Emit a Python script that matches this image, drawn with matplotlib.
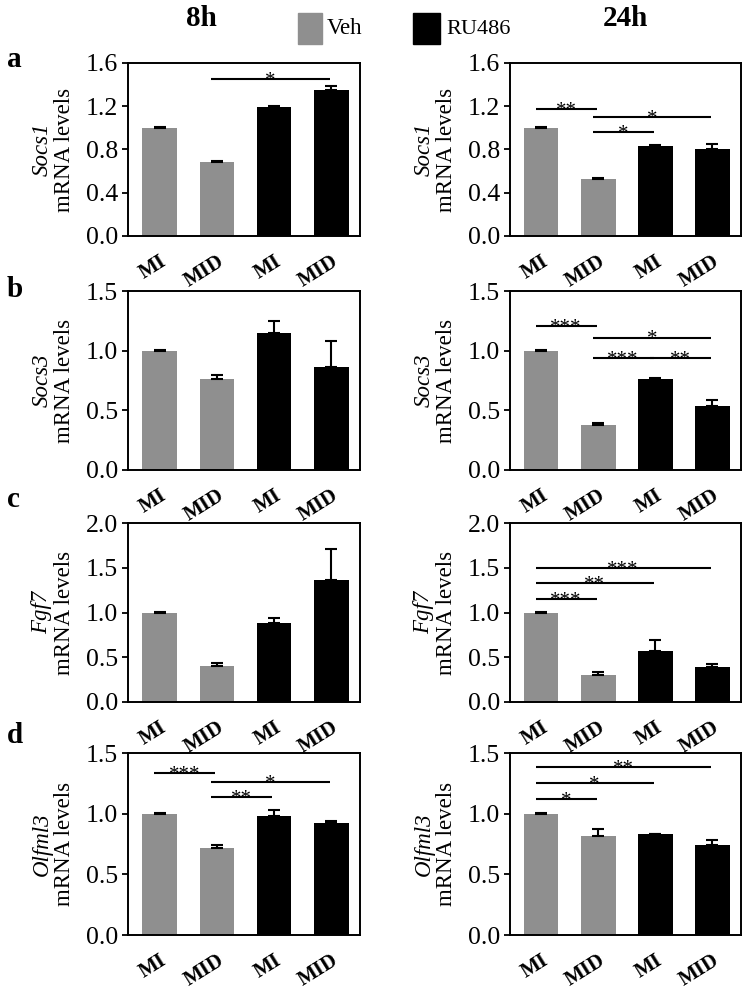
import matplotlib
matplotlib.use("Agg")
import matplotlib.pyplot as plt
from matplotlib.patches import Rectangle
import numpy as np

plt.rcParams['font.family'] = ['Liberation Serif', 'DejaVu Serif']

# ---------------- data ----------------
groups = ["MI", "MID", "MI", "MID"]
series_colors = ["#8f8f8f", "#8f8f8f", "#000000", "#000000"]
legend_labels = ["Veh", "RU486"]
time_titles = ["8h", "24h"]
panel_letters = ["a", "b", "c", "d"]
genes = ["Socs1", "Socs3", "Fgf7", "Olfml3"]
y_max = [1.6, 1.5, 2.0, 1.5]
y_step = [0.4, 0.5, 0.5, 0.5]

socs1_8h = [1.00, 0.68, 1.19, 1.35]
socs1_8h_err = [0.005, 0.01, 0.01, 0.04]
socs1_24h = [1.00, 0.53, 0.83, 0.80]
socs1_24h_err = [0.005, 0.01, 0.01, 0.05]

socs3_8h = [1.00, 0.76, 1.15, 0.86]
socs3_8h_err = [0.005, 0.04, 0.10, 0.22]
socs3_24h = [1.00, 0.38, 0.76, 0.54]
socs3_24h_err = [0.005, 0.01, 0.01, 0.05]

fgf7_8h = [1.00, 0.40, 0.88, 1.36]
fgf7_8h_err = [0.005, 0.04, 0.06, 0.35]
fgf7_24h = [1.00, 0.30, 0.57, 0.39]
fgf7_24h_err = [0.005, 0.04, 0.12, 0.04]

olfml3_8h = [1.00, 0.72, 0.98, 0.92]
olfml3_8h_err = [0.005, 0.02, 0.05, 0.02]
olfml3_24h = [1.00, 0.82, 0.83, 0.74]
olfml3_24h_err = [0.005, 0.05, 0.005, 0.04]

# significance brackets: (from group, to group, y level, label)
sig_socs1_8h = [(1, 3, 1.45, "*")]
sig_socs1_24h = [(0, 1, 1.175, "**"), (1, 3, 1.10, "*"), (1, 2, 0.965, "*")]
sig_socs3_8h = []
sig_socs3_24h = [(0, 1, 1.21, "***"), (1, 3, 1.11, "*"), (1, 2, 0.935, "***"), (2, 3, 0.935, "**")]
sig_fgf7_8h = []
sig_fgf7_24h = [(0, 1, 1.15, "***"), (0, 2, 1.33, "**"), (0, 3, 1.50, "***")]
sig_olfml3_8h = [(0, 1, 1.335, "***"), (1, 3, 1.26, "*"), (1, 2, 1.14, "**")]
sig_olfml3_24h = [(0, 3, 1.385, "**"), (0, 2, 1.25, "*"), (0, 1, 1.12, "*")]

rows = [
    (socs1_8h, socs1_8h_err, sig_socs1_8h, socs1_24h, socs1_24h_err, sig_socs1_24h),
    (socs3_8h, socs3_8h_err, sig_socs3_8h, socs3_24h, socs3_24h_err, sig_socs3_24h),
    (fgf7_8h, fgf7_8h_err, sig_fgf7_8h, fgf7_24h, fgf7_24h_err, sig_fgf7_24h),
    (olfml3_8h, olfml3_8h_err, sig_olfml3_8h, olfml3_24h, olfml3_24h_err, sig_olfml3_24h),
]

# ---------------- layout ----------------
W, H = 750, 989
fig = plt.figure(figsize=(W / 100, H / 100), dpi=100)

def fx(px):
    return px / W

def fy(py):
    return 1 - py / H

col_left = [128, 510]
col_right = [360, 741]
row_top = [63, 291, 523, 753]
row_bot = [236, 470, 702, 935]
letter_baseline = [67, 297, 507, 743]

x = np.arange(len(groups))

for r in range(4):
    for c in range(2):
        vals = rows[r][3 * c]
        errs = rows[r][3 * c + 1]
        sigs = rows[r][3 * c + 2]
        ax = fig.add_axes([fx(col_left[c]), fy(row_bot[r]),
                           fx(col_right[c] - col_left[c]),
                           (row_bot[r] - row_top[r]) / H])
        ax.bar(x, vals, width=0.6, color=series_colors, edgecolor='none', zorder=2)
        ax.errorbar(x, vals, yerr=[np.zeros(len(vals)), errs], fmt='none',
                    ecolor='black', elinewidth=1.5, capsize=4.5, capthick=1.5, zorder=3)
        ax.set_xlim(-0.55, 3.5)
        ax.set_ylim(0, y_max[r])
        ticks = np.round(np.arange(0, y_max[r] + 1e-6, y_step[r]), 2)
        ax.set_yticks(ticks)
        ax.set_yticklabels([f"{t:.1f}" for t in ticks], fontsize=18.5)
        ax.set_xticks(x)
        ax.set_xticklabels(groups, fontsize=15, fontweight='bold', rotation=32,
                           ha='right', rotation_mode='anchor')
        ax.tick_params(axis='x', length=0, pad=11)
        ax.tick_params(axis='y', length=4, width=1.3, direction='out', pad=3)
        for s in ax.spines.values():
            s.set_linewidth(1.4)
        for (i, j, yl, lab) in sigs:
            x1 = i - 0.1
            x2 = j - 0.03
            ax.plot([x1, x2], [yl, yl], color='black', lw=1.5, zorder=4,
                    solid_capstyle='butt')
            ax.annotate(lab, xy=((x1 + x2) / 2, yl), xytext=(0, -5),
                        textcoords='offset points', ha='center', va='baseline',
                        fontsize=15, zorder=5)
        # y label: italic gene name + mRNA levels
        ymid = fy((row_top[r] + row_bot[r]) / 2)
        fig.text(fx(col_left[c] - 86), ymid, genes[r], rotation=90, fontsize=16.5,
                 style='italic', ha='center', va='center')
        fig.text(fx(col_left[c] - 63), ymid, "mRNA levels", rotation=90, fontsize=16.5,
                 ha='center', va='center')

    fig.text(fx(7), fy(letter_baseline[r]), panel_letters[r], fontsize=21,
             fontweight='bold', ha='left', va='baseline')

# titles
fig.text(fx(201), fy(18), time_titles[0], fontsize=21, fontweight='bold',
         ha='center', va='center')
fig.text(fx(625), fy(18), time_titles[1], fontsize=21, fontweight='bold',
         ha='center', va='center')

# legend
fig.patches.append(Rectangle((fx(298), fy(44)), fx(24), 31 / H,
                             transform=fig.transFigure, color=series_colors[0]))
fig.text(fx(327), fy(29), legend_labels[0], fontsize=16.5, ha='left', va='center')
fig.patches.append(Rectangle((fx(413), fy(44)), fx(27), 31 / H,
                             transform=fig.transFigure, color=series_colors[2]))
fig.text(fx(446), fy(29), legend_labels[1], fontsize=16, ha='left', va='center')

fig.savefig("out.png", dpi=100)
